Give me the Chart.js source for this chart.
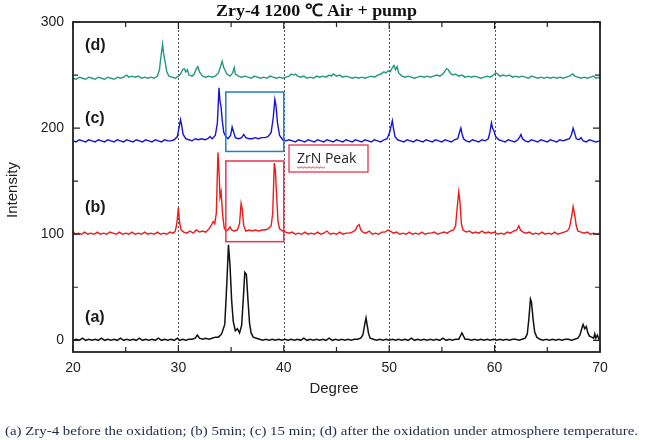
<!DOCTYPE html>
<html>
<head>
<meta charset="utf-8">
<script src="https://cdn.jsdelivr.net/npm/chart.js@4/dist/chart.umd.min.js"></script>
<style>
  html, body { margin: 0; padding: 0; background: #fff; }
  #wrap { width: 645px; height: 440px; }
</style>
</head>
<body>
<div id="wrap"><canvas id="xrd" width="645" height="440"></canvas></div>
<script>
"use strict";

// x range and ticks
const degreeTicks = [20, 30, 40, 50, 60, 70];
const intensityTicks = [0, 100, 200, 300];
const dottedDegrees = [30, 40, 50, 60];

// (a) Zry-4 before the oxidation
const patternA = [
    [20,0],[20.3,1],[20.6,0],[20.9,2],[21.2,0],[21.5,1],[21.8,0],[22.1,1],[22.4,0],[22.7,2],[23,0],[23.3,1],[23.6,0],[23.9,1],[24.2,0],[24.5,2],[24.8,0],[25.1,1],[25.4,0],[25.7,1],[26,0],[26.3,2],[26.6,0],[26.9,1],[27.2,0],[27.5,1],[27.8,0],[28.1,2],[28.4,0],[28.7,1],[29,0],[29.3,1],[29.6,0],[29.9,2],[30.1,0],[30.4,1],[30.7,0],[31,1],[31.3,1],[31.6,2],[31.8,5],[32,2],[32.3,1],[32.6,2],[32.9,1],[33.2,2],[33.5,3],[33.8,3],[34.1,6],[34.4,15],[34.6,55],[34.75,90],[34.9,70],[35.05,38],[35.2,18],[35.4,9],[35.6,11],[35.8,7],[36,14],[36.15,38],[36.3,64],[36.45,62],[36.6,38],[36.75,16],[36.9,7],[37.1,3],[37.4,2],[37.7,1],[38,0],[38.3,1],[38.6,0],[38.9,1],[39.2,0],[39.5,1],[39.8,0],[40.1,1],[40.4,0],[40.7,1],[41,0],[41.3,1],[41.6,0],[41.9,2],[42.2,0],[42.5,1],[42.8,0],[43.1,1],[43.4,0],[43.7,1],[44,0],[44.3,2],[44.6,0],[44.9,1],[45.2,0],[45.5,1],[45.8,0],[46.1,1],[46.4,0],[46.7,1],[47,1],[47.3,2],[47.5,5],[47.7,16],[47.8,21],[47.9,15],[48.05,6],[48.2,2],[48.5,1],[48.8,0],[49.1,1],[49.4,0],[49.7,1],[50,0],[50.3,1],[50.6,0],[50.9,1],[51.2,0],[51.5,1],[51.8,0],[52.1,2],[52.4,0],[52.7,1],[53,0],[53.3,1],[53.6,0],[53.9,1],[54.2,0],[54.5,1],[54.8,0],[55.1,2],[55.4,0],[55.7,1],[56,0],[56.3,1],[56.6,1],[56.8,5],[56.9,7],[57.05,4],[57.2,1],[57.5,1],[57.8,0],[58.1,1],[58.4,0],[58.7,1],[59,0],[59.3,1],[59.6,0],[59.9,1],[60.2,0],[60.5,1],[60.8,0],[61.1,1],[61.4,0],[61.7,1],[62,1],[62.3,0],[62.6,1],[62.9,2],[63.1,6],[63.25,20],[63.4,39],[63.5,36],[63.65,20],[63.8,8],[64,3],[64.3,1],[64.6,0],[64.9,1],[65.2,0],[65.5,1],[65.8,0],[66.1,1],[66.4,0],[66.7,1],[67,1],[67.3,0],[67.6,1],[67.9,2],[68.1,5],[68.3,12],[68.4,15],[68.55,11],[68.7,13],[68.85,7],[69,4],[69.2,3],[69.4,2],[69.5,6],[69.6,2],[69.75,5],[69.9,1],[70,3]
];

// (b) 5 min
const patternB = [
    [20,103],[20.2,100],[20.5,101],[20.8,100],[21.1,102],[21.4,100],[21.7,101],[22,100],[22.3,102],[22.6,100],[22.9,101],[23.2,100],[23.5,102],[23.8,101],[24.1,100],[24.4,102],[24.7,100],[25,101],[25.3,100],[25.6,102],[25.9,100],[26.2,101],[26.5,100],[26.8,102],[27.1,100],[27.4,101],[27.7,100],[28,102],[28.3,100],[28.6,101],[28.9,100],[29.2,102],[29.5,101],[29.7,103],[29.85,110],[30,125],[30.1,112],[30.25,104],[30.5,102],[30.8,101],[31.1,103],[31.4,101],[31.7,104],[32,102],[32.3,103],[32.6,102],[32.9,105],[33.1,108],[33.3,112],[33.45,110],[33.6,120],[33.75,177],[33.85,160],[33.95,135],[34.05,140],[34.2,118],[34.35,106],[34.5,103],[34.7,104],[34.9,107],[35.05,104],[35.3,103],[35.6,104],[35.8,110],[35.95,129],[36.05,124],[36.2,108],[36.4,103],[36.7,104],[37,103],[37.3,104],[37.6,103],[37.9,104],[38.2,104],[38.5,105],[38.8,108],[38.95,120],[39.1,167],[39.2,160],[39.3,140],[39.45,112],[39.6,105],[39.9,103],[40.2,102],[40.5,101],[40.8,102],[41.1,100],[41.4,101],[41.7,100],[42,102],[42.3,100],[42.6,101],[42.9,100],[43.2,102],[43.5,100],[43.8,101],[44.1,103],[44.4,100],[44.7,101],[45,100],[45.3,102],[45.6,100],[45.9,101],[46.2,101],[46.5,102],[46.8,104],[47,108],[47.15,109],[47.3,104],[47.5,102],[47.8,101],[48.1,103],[48.4,100],[48.7,101],[49,100],[49.3,102],[49.6,102],[49.9,104],[50.1,103],[50.4,101],[50.7,102],[51,100],[51.3,101],[51.6,100],[51.9,102],[52.2,100],[52.5,101],[52.8,100],[53.1,102],[53.4,100],[53.7,101],[54,101],[54.3,102],[54.6,100],[54.9,101],[55.2,102],[55.5,101],[55.8,103],[56.1,104],[56.3,108],[56.45,125],[56.6,140],[56.7,132],[56.85,110],[57,104],[57.3,102],[57.6,103],[57.9,101],[58.2,102],[58.5,101],[58.8,103],[59.1,101],[59.4,102],[59.7,101],[60,102],[60.3,100],[60.6,101],[60.9,100],[61.2,102],[61.5,101],[61.8,103],[62.1,104],[62.3,108],[62.45,104],[62.7,102],[63,101],[63.3,102],[63.6,100],[63.9,101],[64.2,100],[64.5,102],[64.8,100],[65.1,101],[65.4,100],[65.7,102],[66,100],[66.3,101],[66.6,102],[66.9,103],[67.1,106],[67.3,116],[67.45,126],[67.6,118],[67.75,108],[67.9,103],[68.2,102],[68.5,101],[68.8,102],[69.1,100],[69.4,101],[69.7,100],[70,101]
];

// (c) 15 min
const patternC = [
    [20,188],[20.3,187],[20.6,189],[20.9,188],[21.2,187],[21.5,189],[21.8,188],[22.1,187],[22.4,189],[22.7,188],[23,187],[23.3,189],[23.6,188],[23.9,187],[24.2,189],[24.5,188],[24.8,187],[25.1,189],[25.4,188],[25.7,187],[26,189],[26.3,188],[26.6,187],[26.9,189],[27.2,188],[27.5,187],[27.8,189],[28.1,188],[28.4,187],[28.7,189],[29,188],[29.3,188],[29.6,189],[29.9,192],[30.05,200],[30.2,208],[30.3,203],[30.45,194],[30.7,190],[31,189],[31.3,188],[31.6,190],[31.9,189],[32.2,190],[32.5,189],[32.8,190],[33,192],[33.2,190],[33.5,193],[33.7,205],[33.85,238],[33.95,225],[34.05,220],[34.15,208],[34.3,196],[34.5,192],[34.7,190],[34.95,193],[35.1,201],[35.25,196],[35.4,191],[35.7,190],[36,191],[36.2,194],[36.4,191],[36.7,190],[37,190],[37.3,191],[37.6,190],[37.9,191],[38.2,191],[38.5,192],[38.8,196],[39,210],[39.15,227],[39.25,222],[39.4,205],[39.6,193],[39.9,189],[40.2,188],[40.5,189],[40.8,188],[41.1,187],[41.4,189],[41.7,188],[42,187],[42.3,189],[42.6,188],[42.9,187],[43.2,189],[43.5,188],[43.8,187],[44.1,189],[44.4,188],[44.7,187],[45,189],[45.3,188],[45.6,187],[45.9,189],[46.2,188],[46.5,187],[46.8,189],[47.1,188],[47.4,187],[47.7,189],[48,188],[48.3,187],[48.6,189],[48.9,188],[49.2,187],[49.5,189],[49.8,190],[50.05,196],[50.2,203],[50.3,207],[50.4,200],[50.55,192],[50.8,189],[51.1,188],[51.4,187],[51.7,189],[52,188],[52.3,187],[52.6,189],[52.9,188],[53.2,187],[53.5,189],[53.8,188],[54.1,187],[54.4,189],[54.7,188],[55,187],[55.3,189],[55.6,188],[55.9,187],[56.2,189],[56.5,190],[56.7,197],[56.8,200],[56.9,195],[57.05,190],[57.3,188],[57.6,187],[57.9,189],[58.2,188],[58.5,187],[58.8,189],[59.1,188],[59.4,190],[59.55,196],[59.7,205],[59.8,200],[59.95,197],[60.1,192],[60.4,189],[60.7,188],[61,187],[61.3,189],[61.6,188],[61.9,187],[62.2,189],[62.4,192],[62.5,194],[62.65,190],[62.9,188],[63.2,187],[63.5,189],[63.8,188],[64.1,187],[64.4,189],[64.7,188],[65,187],[65.3,189],[65.6,188],[65.9,187],[66.2,189],[66.5,188],[66.8,189],[67.1,190],[67.3,194],[67.45,200],[67.6,195],[67.75,190],[68,189],[68.2,191],[68.4,188],[68.7,187],[69,189],[69.3,188],[69.6,187],[70,188]
];

// (d) after the oxidation under atmosphere temperature
const patternD = [
    [20,247],[20.3,246],[20.6,248],[20.9,247],[21.2,246],[21.5,248],[21.8,247],[22.1,246],[22.4,248],[22.7,247],[23,246],[23.3,248],[23.6,247],[23.9,246],[24.2,248],[24.5,247],[24.8,248],[25.1,250],[25.3,248],[25.6,249],[25.9,248],[26.2,249],[26.5,247],[26.8,248],[27.1,247],[27.4,248],[27.7,247],[28,249],[28.2,255],[28.35,268],[28.5,279],[28.6,270],[28.75,262],[28.9,253],[29.1,249],[29.4,248],[29.7,247],[30,249],[30.2,251],[30.4,255],[30.55,256],[30.7,253],[30.85,255],[31,250],[31.3,249],[31.5,251],[31.7,256],[31.85,258],[32,253],[32.3,249],[32.6,248],[32.9,249],[33.2,248],[33.5,249],[33.8,252],[34,258],[34.15,263],[34.3,257],[34.45,254],[34.6,251],[34.9,249],[35.15,252],[35.3,257],[35.4,251],[35.7,249],[36,248],[36.3,249],[36.6,248],[36.9,247],[37.2,249],[37.5,248],[37.8,247],[38.1,248],[38.4,247],[38.7,249],[39,248],[39.3,247],[39.6,248],[39.9,247],[40.2,248],[40.5,249],[40.7,251],[40.9,250],[41.1,251],[41.3,249],[41.6,248],[41.9,249],[42.2,247],[42.5,248],[42.8,247],[43.1,249],[43.4,248],[43.7,249],[44,248],[44.3,250],[44.5,249],[44.7,251],[45,249],[45.3,250],[45.6,248],[45.9,249],[46.2,248],[46.5,247],[46.8,248],[47.1,247],[47.4,248],[47.7,247],[48,248],[48.3,249],[48.6,248],[48.9,250],[49.2,251],[49.5,253],[49.7,252],[49.9,254],[50.1,253],[50.3,257],[50.45,259],[50.6,255],[50.75,258],[50.9,252],[51.2,249],[51.5,248],[51.8,249],[52.1,248],[52.4,247],[52.7,248],[53,249],[53.3,248],[53.6,249],[53.9,248],[54.2,249],[54.5,250],[54.8,249],[55.1,251],[55.3,254],[55.45,256],[55.6,255],[55.8,252],[56,250],[56.3,251],[56.6,249],[56.9,250],[57.2,248],[57.5,249],[57.8,248],[58.1,249],[58.4,248],[58.7,247],[59,248],[59.3,249],[59.6,248],[59.9,250],[60.1,252],[60.3,251],[60.5,249],[60.8,250],[61.1,249],[61.4,250],[61.7,248],[62,249],[62.3,248],[62.6,249],[62.9,248],[63.2,247],[63.5,249],[63.8,248],[64.1,247],[64.4,248],[64.7,247],[65,248],[65.3,247],[65.6,248],[65.9,247],[66.2,248],[66.5,247],[66.8,248],[67.1,249],[67.4,251],[67.6,249],[67.9,248],[68.2,247],[68.5,248],[68.8,247],[69.1,248],[69.4,249],[69.6,247],[70,248]
];

// panel labels: [text, degree, intensity]
const panelLabels = [
    ["(d)", 21.15, 278],
    ["(c)", 21.15, 209],
    ["(b)", 21.15, 125],
    ["(a)", 21.15, 21]
];

// highlight boxes: [x0, x1, y0, y1, colour] in data units
const peakBoxes = [
    [34.5, 40, 178, 234, "#1f7fc8"],
    [34.5, 40, 93, 169, "#e8334f"]
];

const titleText = "Zry-4 1200 \u2103 Air + pump";
const captionText = "(a) Zry-4 before the oxidation; (b) 5min; (c) 15 min; (d) after the oxidation under atmosphere temperature.";

function toPoints(L) {
    return L.map(p => ({ x: p[0], y: p[1] }));
}

function fitText(ctx, text, x, y, width) {
    let w = ctx.measureText(text).width;
    ctx.save();
    ctx.translate(x, y);
    ctx.scale(width / w, 1);
    ctx.fillText(text, 0, 0);
    ctx.restore();
}

const decorPlugin = {
    id: "decor",
    beforeDatasetsDraw(chart) {
        const ctx = chart.ctx, a = chart.chartArea;
        const xs = chart.scales.x;
        ctx.save();
        ctx.strokeStyle = "#555";
        ctx.lineWidth = 1;
        ctx.setLineDash([2, 2]);
        dottedDegrees.forEach(d => {
            const px = Math.round(xs.getPixelForValue(d)) + 0.5;
            ctx.beginPath();
            ctx.moveTo(px, a.top);
            ctx.lineTo(px, a.bottom);
            ctx.stroke();
        });
        ctx.restore();
    },
    afterDatasetsDraw(chart) {
        const ctx = chart.ctx, a = chart.chartArea;
        const xs = chart.scales.x, ys = chart.scales.y;
        ctx.save();

        // frame
        ctx.strokeStyle = "#222";
        ctx.lineWidth = 1.8;
        ctx.strokeRect(a.left, a.top, a.right - a.left, a.bottom - a.top);

        // inward ticks
        ctx.lineWidth = 1.2;
        for (let d = 20; d <= 70; d += 5) {
            const px = xs.getPixelForValue(d);
            const len = d % 10 === 0 ? 7 : 5;
            ctx.beginPath();
            ctx.moveTo(px, a.bottom);
            ctx.lineTo(px, a.bottom - len);
            ctx.moveTo(px, a.top);
            ctx.lineTo(px, a.top + len);
            ctx.stroke();
        }
        for (let v = 0; v <= 300; v += 50) {
            const py = ys.getPixelForValue(v);
            const len = v % 100 === 0 ? 7 : 5;
            ctx.beginPath();
            ctx.moveTo(a.left, py);
            ctx.lineTo(a.left + len, py);
            ctx.moveTo(a.right, py);
            ctx.lineTo(a.right - len, py);
            ctx.stroke();
        }

        // peak boxes
        ctx.lineWidth = 1.5;
        peakBoxes.forEach(b => {
            const x0 = xs.getPixelForValue(b[0]), x1 = xs.getPixelForValue(b[1]);
            const y0 = ys.getPixelForValue(b[3]), y1 = ys.getPixelForValue(b[2]);
            ctx.strokeStyle = b[4];
            ctx.strokeRect(x0, y0, x1 - x0, y1 - y0);
        });

        // ZrN Peak label box
        ctx.strokeStyle = "#e8334f";
        ctx.lineWidth = 1.3;
        ctx.fillStyle = "#fff";
        ctx.fillRect(289, 145, 79, 27);
        ctx.strokeRect(289, 145, 79, 27);
        ctx.fillStyle = "#222";
        ctx.font = "14px 'Open Sans', 'Liberation Sans', sans-serif";
        ctx.textBaseline = "middle";
        ctx.textAlign = "left";
        ctx.fillText("ZrN Peak", 297, 159);
        // spell-check squiggle under ZrN
        ctx.strokeStyle = "#e02020";
        ctx.lineWidth = 0.8;
        ctx.beginPath();
        for (let i = 0; i <= 14; i++) {
            const px = 297 + i * 2;
            const py = 167 + (i % 2 ? 1.2 : -0.2);
            if (i === 0) ctx.moveTo(px, py); else ctx.lineTo(px, py);
        }
        ctx.stroke();

        // panel labels
        ctx.fillStyle = "#1a1a1a";
        ctx.font = "bold 16px 'Liberation Sans', Arial, sans-serif";
        ctx.textAlign = "left";
        panelLabels.forEach(l => {
            ctx.fillText(l[0], xs.getPixelForValue(l[1]), ys.getPixelForValue(l[2]));
        });

        // title
        ctx.fillStyle = "#111";
        ctx.font = "bold 17px 'Liberation Serif', 'Times New Roman', serif";
        ctx.textBaseline = "alphabetic";
        fitText(ctx, titleText, 216, 16, 201);

        // axis titles
        ctx.fillStyle = "#222";
        ctx.font = "15px 'Liberation Sans', Arial, sans-serif";
        ctx.textAlign = "center";
        ctx.textBaseline = "middle";
        ctx.fillText("Degree", 334, 389);
        ctx.save();
        ctx.translate(13, 190);
        ctx.rotate(-Math.PI / 2);
        ctx.fillText("Intensity", 0, 0);
        ctx.restore();

        // caption
        ctx.fillStyle = "#1e2b45";
        ctx.font = "13px 'Liberation Serif', 'Times New Roman', serif";
        ctx.textAlign = "left";
        ctx.textBaseline = "alphabetic";
        fitText(ctx, captionText, 5, 435, 633);

        ctx.restore();
    }
};

function makeDataset(label, pts, colour, width) {
    return {
        label: label,
        data: toPoints(pts),
        borderColor: colour,
        backgroundColor: colour,
        borderWidth: width,
        pointRadius: 0,
        tension: 0,
        fill: false
    };
}

new Chart(document.getElementById("xrd").getContext("2d"), {
    type: "line",
    data: {
        datasets: [
            makeDataset("(a)", patternA, "#111111", 1.5),
            makeDataset("(b)", patternB, "#f01818", 1.4),
            makeDataset("(c)", patternC, "#1414dc", 1.4),
            makeDataset("(d)", patternD, "#23977f", 1.4)
        ]
    },
    options: {
        responsive: false,
        animation: false,
        devicePixelRatio: 1,
        layout: { padding: { left: 0, right: 45, top: 22, bottom: 0 } },
        plugins: { legend: { display: false }, tooltip: { enabled: false } },
        scales: {
            x: {
                type: "linear",
                min: 20,
                max: 70,
                grid: { display: false, drawTicks: false },
                border: { display: false },
                afterBuildTicks: s => { s.ticks = degreeTicks.map(v => ({ value: v })); },
                afterFit: s => { s.height = 88; },
                ticks: {
                    padding: 8,
                    color: "#222",
                    font: { family: "'Liberation Sans', Arial, sans-serif", size: 14 },
                    maxRotation: 0
                }
            },
            y: {
                type: "linear",
                min: -11,
                max: 300,
                grid: { display: false, drawTicks: false },
                border: { display: false },
                afterBuildTicks: s => { s.ticks = intensityTicks.map(v => ({ value: v })); },
                afterFit: s => { s.width = 73; },
                ticks: {
                    padding: 9,
                    color: "#222",
                    font: { family: "'Liberation Sans', Arial, sans-serif", size: 14 }
                }
            }
        }
    },
    plugins: [decorPlugin]
});
</script>
</body>
</html>
